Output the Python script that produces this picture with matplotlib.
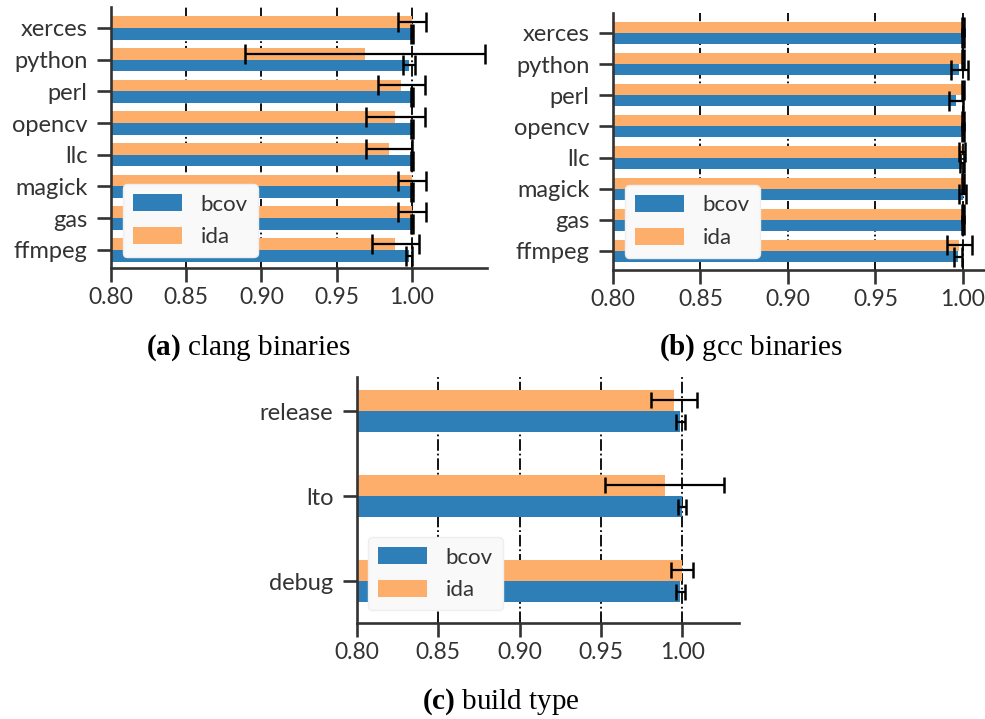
import numpy as np
import matplotlib
matplotlib.use("Agg")
import matplotlib.pyplot as plt

plt.rcParams['font.family'] = ['Lato', 'DejaVu Sans']
plt.rcParams['mathtext.fontset'] = 'custom'
plt.rcParams['mathtext.rm'] = 'Liberation Serif'
plt.rcParams['mathtext.bf'] = 'Liberation Serif:bold'

# data (listed top to bottom as in the figure)
clang_cats = ['xerces', 'python', 'perl', 'opencv', 'llc', 'magick', 'gas', 'ffmpeg']
clang_bcov = [1.0, 0.998, 1.0, 1.0, 1.0, 1.0, 1.0, 0.998]
clang_bcov_err = [0.0005, 0.004, 0.0005, 0.0005, 0.0005, 0.0005, 0.0005, 0.002]
clang_ida = [1.0, 0.969, 0.993, 0.989, 0.985, 1.0, 1.0, 0.989]
clang_ida_err = [0.0095, 0.080, 0.0157, 0.0197, 0.0154, 0.0095, 0.0095, 0.0156]

gcc_cats = ['xerces', 'python', 'perl', 'opencv', 'llc', 'magick', 'gas', 'ffmpeg']
gcc_bcov = [1.0, 0.998, 0.996, 1.0, 0.9995, 1.0, 1.0, 0.997]
gcc_bcov_err = [0.0005, 0.0046, 0.0041, 0.0005, 0.001, 0.002, 0.0005, 0.0022]
gcc_ida = [1.0, 1.0, 1.0, 1.0, 0.9994, 1.0, 1.0, 0.998]
gcc_ida_err = [0.0005, 0.0005, 0.0005, 0.0005, 0.0016, 0.0005, 0.0005, 0.0071]

build_cats = ['release', 'lto', 'debug']
build_bcov = [0.999, 1.0, 0.999]
build_bcov_err = [0.003, 0.0025, 0.003]
build_ida = [0.995, 0.9895, 1.0]
build_ida_err = [0.014, 0.0366, 0.0065]

xticks = [0.80, 0.85, 0.90, 0.95, 1.00]
BLUE = '#2e7fb8'
ORANGE = '#fdae6b'
DARK = '#333333'

fig = plt.figure(figsize=(9.85, 7.19), dpi=100)


def panel(rect, cats, bcov, bcov_err, ida, ida_err, h, xlim, ylim, leg_xy, caption, cap_xy, capsize):
    ax = fig.add_axes(rect)
    n = len(cats)
    pos = np.arange(n)[::-1]  # first category on top
    ekw = dict(elinewidth=1.6, capthick=1.8, ecolor='black')
    ax.barh(pos - h / 2, bcov, height=h, color=BLUE, xerr=bcov_err,
            capsize=capsize, error_kw=ekw, label='bcov', zorder=2)
    ax.barh(pos + h / 2, ida, height=h, color=ORANGE, xerr=ida_err,
            capsize=capsize, error_kw=ekw, label='ida', zorder=2)
    ax.set_xlim(*xlim)
    ax.set_ylim(*ylim)
    ax.set_xticks(xticks)
    ax.set_xticklabels(['%.2f' % t for t in xticks])
    ax.set_yticks(pos)
    ax.set_yticklabels(cats)
    ax.grid(axis='x', ls='-.', color='black', lw=1.3, zorder=0)
    ax.set_axisbelow(True)
    for s in ['top', 'right']:
        ax.spines[s].set_visible(False)
    for s in ['left', 'bottom']:
        ax.spines[s].set_linewidth(1.9)
        ax.spines[s].set_color(DARK)
    ax.tick_params(axis='both', length=10, width=1.9, color=DARK,
                   labelsize=16.5, labelcolor=DARK)
    ax.tick_params(axis='y', pad=7, labelsize=17)
    ax.tick_params(axis='x', pad=4)
    leg = ax.legend(loc='lower left', bbox_to_anchor=leg_xy, borderaxespad=0,
                    fontsize=16, frameon=True, fancybox=True, framealpha=1,
                    facecolor='#f9f9f9', edgecolor='#eeeeee',
                    handlelength=2.2, handleheight=0.8, handletextpad=0.85,
                    labelspacing=0.55, borderpad=0.45)
    for t in leg.get_texts():
        t.set_color(DARK)
    fig.text(cap_xy[0], cap_xy[1], caption, ha='center', va='center',
             fontsize=21, color='black', family='Liberation Serif')
    return ax


panel([0.1127, 0.6273, 0.3817, 0.3630], clang_cats, clang_bcov, clang_bcov_err,
      clang_ida, clang_ida_err, 0.37, (0.8, 1.05), (-0.57, 7.66),
      (0.032, 0.042), r'$\mathbf{(a)}$ clang binaries', (248 / 985, 1 - 348 / 719), 7)

panel([0.6223, 0.6245, 0.3777, 0.3574], gcc_cats, gcc_bcov, gcc_bcov_err,
      gcc_ida, gcc_ida_err, 0.355, (0.8, 1.0126), (-0.61, 7.64),
      (0.032, 0.047), r'$\mathbf{(b)}$ gcc binaries', (751 / 985, 1 - 348 / 719), 7)

panel([0.3624, 0.1335, 0.3878, 0.3421], build_cats, build_bcov, build_bcov_err,
      build_ida, build_ida_err, 0.25, (0.8, 1.035), (-0.494, 2.4),
      (0.029, 0.053), r'$\mathbf{(c)}$ build type', (501 / 985, 1 - 702 / 719), 6)

fig.savefig('out.png', dpi=100)
